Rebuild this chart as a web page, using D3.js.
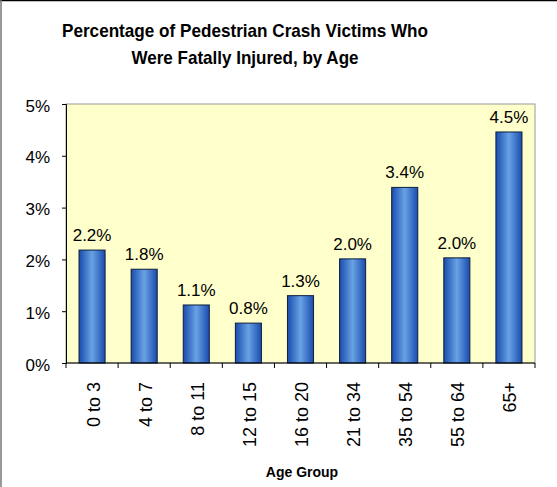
<!DOCTYPE html>
<html><head><meta charset="utf-8">
<script src="https://cdn.jsdelivr.net/npm/d3@7"></script>
<style>body{margin:0;background:#fff}svg{display:block}</style>
</head><body>
<script>
const categories = ["0 to 3","4 to 7","8 to 11","12 to 15","16 to 20","21 to 34","35 to 54","55 to 64","65+"];
const values = [2.18, 1.81, 1.12, 0.77, 1.30, 2.01, 3.39, 2.03, 4.46];
const yTicks = [0,1,2,3,4,5];
const title = ["Percentage of Pedestrian Crash Victims Who","Were Fatally Injured, by Age"];
const xTitle = "Age Group";

const W=557,H=487;
const m={left:66,right:22,top:104,bottom:124};
const FF="'Liberation Sans', Arial, sans-serif";
const svg=d3.select("body").append("svg").attr("width",W).attr("height",H)
  .style("font-family",FF);

// outer border
svg.append("line").attr("x1",0).attr("x2",W).attr("y1",0.5).attr("y2",0.5).attr("stroke","#000").attr("stroke-width",1.5);
svg.append("line").attr("x1",1).attr("x2",1).attr("y1",0).attr("y2",H).attr("stroke","#777").attr("stroke-width",1.5);

const defs=svg.append("defs");
const g=defs.append("linearGradient").attr("id","bar").attr("x1","0%").attr("x2","100%");
g.append("stop").attr("offset","0%").attr("stop-color","#1a4cae");
g.append("stop").attr("offset","50%").attr("stop-color","#68a2e4");
g.append("stop").attr("offset","100%").attr("stop-color","#1a4cae");

const x=d3.scaleBand().domain(categories).range([m.left,W-m.right]).paddingInner(0.5).paddingOuter(0.25);
const y=d3.scaleLinear().domain([0,5]).range([H-m.bottom,m.top]);

svg.append("rect").attr("x",m.left).attr("y",m.top).attr("width",W-m.right-m.left).attr("height",H-m.bottom-m.top)
  .attr("fill","#ffffcc").attr("stroke","#999").attr("stroke-width",1);

// title
const tLens=[366,227];
svg.selectAll("text.title").data(title).join("text").attr("class","title")
  .attr("x",245).attr("y",(d,i)=>37+i*26.5)
  .attr("font-weight","bold").attr("font-size",18.5).attr("text-anchor","middle")
  .attr("textLength",(d,i)=>tLens[i]).attr("lengthAdjust","spacingAndGlyphs")
  .text(d=>d);

// bars
svg.selectAll("rect.bar").data(values).join("rect").attr("class","bar")
  .attr("x",(d,i)=>x(categories[i])).attr("width",x.bandwidth())
  .attr("y",d=>y(d)).attr("height",d=>y(0)-y(d))
  .attr("fill","url(#bar)").attr("stroke","#0d1e3a").attr("stroke-width",1);

// labels
svg.selectAll("text.lab").data(values).join("text").attr("class","lab")
  .attr("x",(d,i)=>x(categories[i])+x.bandwidth()/2).attr("y",d=>y(d)-9)
  .attr("text-anchor","middle").attr("font-size",17).attr("fill","#000")
  .text(d=>d.toFixed(1)+"%");

// y axis
const ya=svg.append("g").attr("transform",`translate(${m.left},0)`)
  .call(d3.axisLeft(y).tickValues(yTicks).tickFormat(d=>d+"%").tickSize(4).tickPadding(12));
ya.select(".domain").attr("stroke","#000");
ya.selectAll("text").attr("font-size",17).attr("font-family",FF).attr("fill","#000").attr("dy","0.42em");

// x axis
const xa=svg.append("g").attr("transform",`translate(0,${H-m.bottom})`);
xa.append("line").attr("x1",m.left).attr("x2",W-m.right).attr("stroke","#000");
const bounds=d3.range(categories.length+1).map(i=>m.left+i*(W-m.right-m.left)/categories.length);
xa.selectAll("line.t").data(bounds).join("line").attr("class","t")
  .attr("x1",d=>d).attr("x2",d=>d).attr("y1",0).attr("y2",5).attr("stroke","#000");
xa.selectAll("text.c").data(categories).join("text").attr("class","c")
  .attr("transform",d=>`translate(${x(d)+x.bandwidth()/2+7.5},${19}) rotate(-90)`)
  .attr("text-anchor","end").attr("font-size",18).attr("fill","#000").text(d=>d);

svg.append("text").attr("x",302).attr("y",477).attr("text-anchor","middle")
  .attr("font-weight","bold").attr("font-size",14).text(xTitle);
</script>
</body></html>
